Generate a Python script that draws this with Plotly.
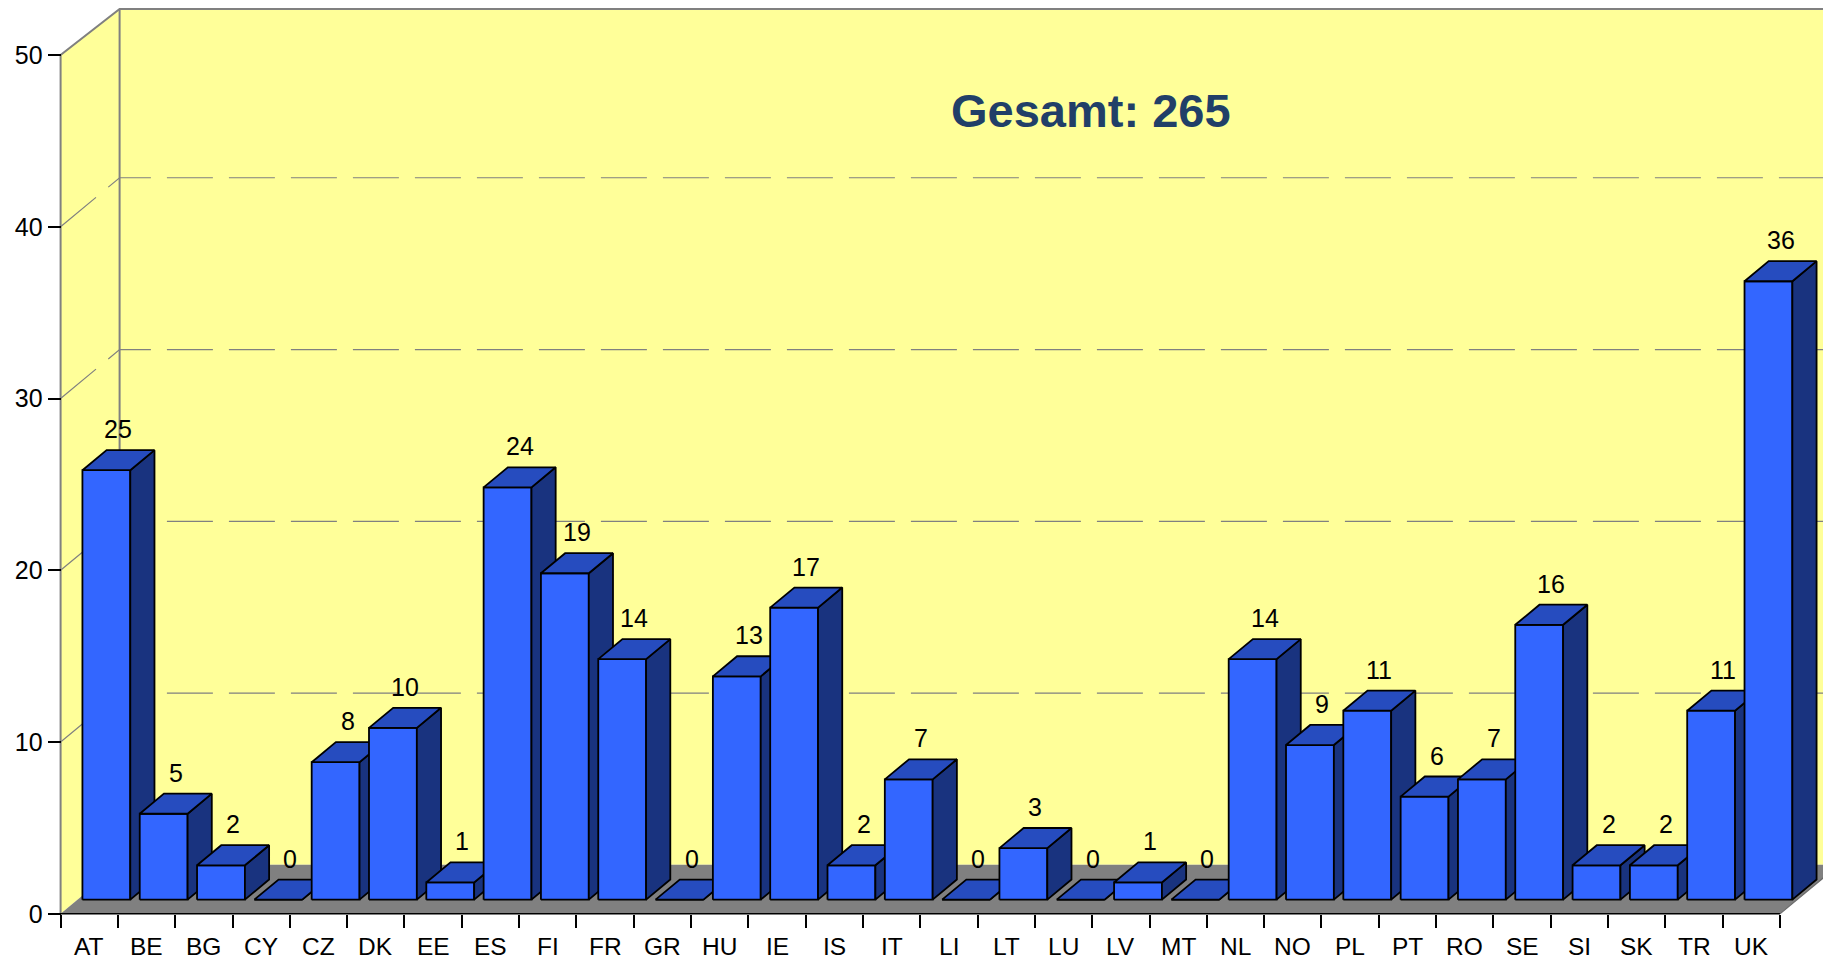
import plotly.graph_objects as go

categories = ["AT", "BE", "BG", "CY", "CZ", "DK", "EE", "ES", "FI", "FR",
              "GR", "HU", "IE", "IS", "IT", "LI", "LT", "LU", "LV", "MT",
              "NL", "NO", "PL", "PT", "RO", "SE", "SI", "SK", "TR", "UK"]
values = [25, 5, 2, 0, 8, 10, 1, 24, 19, 14,
          0, 13, 17, 2, 7, 0, 3, 0, 1, 0,
          14, 9, 11, 6, 7, 16, 2, 2, 11, 36]
y_ticks = [0, 10, 20, 30, 40, 50]
title_text = "Gesamt: 265"

# ---- geometry (pixels of the 1831x963 page; page body has an 8px margin) ----
PAGE_W, PAGE_H = 1831, 963
OFF = 8
W, H = PAGE_W - OFF, PAGE_H - OFF
X0PX, Y0PX = 61 - OFF, 914 - OFF   # figure pixel of the front origin
SX, SY = 57.3, 17.18               # px per category, px per unit
DX, DY = 59 / SX, 49 / SY          # full depth offset in data units
T0, T1 = 0.29, 0.70                # bar depth span (fraction of depth)
BW = 0.835                         # bar width (categories)
N = len(categories)
YMAX_V = y_ticks[-1]

x_min, x_max = -0.08, (W - X0PX) / SX
y_min, y_max = -0.3, Y0PX / SY
TOPY = min(YMAX_V + DY, y_max - 0.06)   # back wall top edge (kept visible)

m_l = X0PX + x_min * SX
m_r = max(0.0, W - (X0PX + x_max * SX))
m_t = max(0.0, Y0PX - y_max * SY)
m_b = H - (Y0PX - y_min * SY)

WALL = "#FFFF99"
FLOOR = "#808080"
EDGE = "#808080"
FRONT = "#3366FF"
TOP = "#264CBF"
SIDE = "#19337F"
FONT = "Liberation Sans, Arial, sans-serif"

fig = go.Figure()

# ---- walls, floor, gridlines as background shapes ----
shapes = []
shapes.append(dict(type="path", xref="x", yref="y", layer="below",
                   path=f"M 0,0 L {DX},{DY} L {DX},{TOPY} L 0,{YMAX_V} Z",
                   fillcolor=WALL, line=dict(width=0)))
shapes.append(dict(type="path", xref="x", yref="y", layer="below",
                   path=f"M {DX},{DY} L {x_max+1},{DY} L {x_max+1},{TOPY} L {DX},{TOPY} Z",
                   fillcolor=WALL, line=dict(width=0)))
shapes.append(dict(type="path", xref="x", yref="y", layer="below",
                   path=f"M 0,0 L {N},0 L {N+DX},{DY} L {DX},{DY} Z",
                   fillcolor=FLOOR, line=dict(width=0)))
for v in y_ticks[1:-1]:
    shapes.append(dict(type="path", xref="x", yref="y", layer="below",
                       path=f"M 0,{v} L {DX},{v+DY} L {x_max+1},{v+DY}",
                       line=dict(color=EDGE, width=1.2, dash="46px,16px")))
shapes.append(dict(type="path", xref="x", yref="y", layer="below",
                   path=f"M 0,0 L 0,{YMAX_V} L {DX},{TOPY} L {x_max+1},{TOPY}",
                   line=dict(color=EDGE, width=2)))
shapes.append(dict(type="line", xref="x", yref="y", layer="below",
                   x0=DX, y0=DY, x1=DX, y1=TOPY,
                   line=dict(color=EDGE, width=2)))
shapes.append(dict(type="line", xref="x", yref="y", layer="below",
                   x0=0, y0=0, x1=N, y1=0, line=dict(color="black", width=1.5)))
shapes.append(dict(type="line", xref="x", yref="y", layer="below",
                   x0=N, y0=0, x1=N + DX, y1=DY, line=dict(color="#6a6a6a", width=1.2)))

# ---- 3D bars ----
ddx, ddy = (T1 - T0) * DX, (T1 - T0) * DY
for i, v in enumerate(values):
    xl = i + 0.5 + T0 * DX - BW / 2
    xr = xl + BW
    yb = T0 * DY
    yt = yb + v
    faces = [
        (FRONT, [xl, xr, xr, xl, xl], [yb, yb, yt, yt, yb]),
        (SIDE, [xr, xr + ddx, xr + ddx, xr, xr], [yb, yb + ddy, yt + ddy, yt, yb]),
        (TOP, [xl, xr, xr + ddx, xl + ddx, xl], [yt, yt, yt + ddy, yt + ddy, yt]),
    ]
    for col, fx, fy in faces:
        fig.add_trace(go.Scatter(x=fx, y=fy, mode="lines", fill="toself",
                                 fillcolor=col, line=dict(color="black", width=1.8),
                                 hoverinfo="skip", showlegend=False))

# ---- annotations ----
annotations = []
for i, v in enumerate(values):
    annotations.append(dict(x=i + 0.5 + T0 * DX + (T1 - T0) * DX / 2,
                            y=T0 * DY + v, xref="x", yref="y",
                            text=str(v), showarrow=False, yanchor="middle",
                            xanchor="center", yshift=41,
                            font=dict(size=25, color="black", family=FONT)))
for i, c in enumerate(categories):
    annotations.append(dict(x=i + 0.5, y=0, xref="x", yref="y", text=c,
                            showarrow=False, yanchor="middle", xanchor="center",
                            yshift=-33, font=dict(size=24.5, color="black", family=FONT)))
annotations.append(dict(x=(1091 - OFF - X0PX) / SX, y=(Y0PX - (111 - OFF)) / SY,
                        xref="x", yref="y",
                        text=title_text, showarrow=False, xanchor="center",
                        yanchor="middle",
                        font=dict(size=47, color="#213F68", family=FONT, weight="bold")))

fig.update_layout(
    width=W, height=H,
    margin=dict(l=m_l, r=m_r, t=m_t, b=m_b, pad=0),
    paper_bgcolor="white", plot_bgcolor="white",
    showlegend=False,
    shapes=shapes, annotations=annotations,
    xaxis=dict(range=[x_min, x_max], showgrid=False, zeroline=False, showline=False,
               tickvals=list(range(N + 1)), showticklabels=False,
               ticks="outside", ticklen=13, tickwidth=1.5, tickcolor="black",
               anchor="free", position=(0 - y_min) / (y_max - y_min), fixedrange=True),
    yaxis=dict(range=[y_min, y_max], showgrid=False, zeroline=False, showline=False,
               tickvals=y_ticks, ticks="outside", ticklen=13, tickwidth=1.5,
               tickcolor="black", tickfont=dict(size=25, color="black", family=FONT),
               anchor="free", position=(0 - x_min) / (x_max - x_min), fixedrange=True),
)

fig.write_html("out.html")
